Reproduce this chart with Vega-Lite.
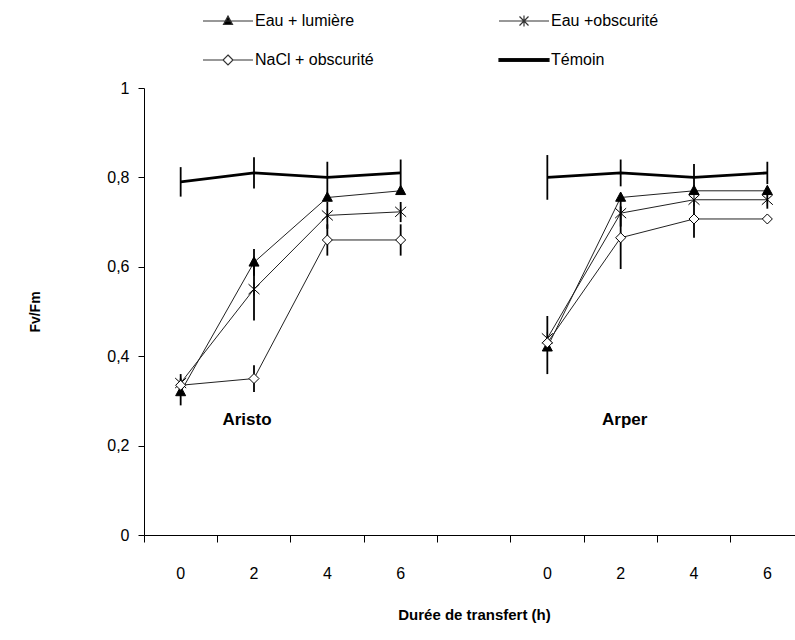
{
  "$schema": "https://vega.github.io/schema/vega-lite/v6.json",
  "width": 660,
  "height": 447,
  "autosize": "none",
  "padding": {"left": 144, "top": 88, "right": 0, "bottom": 105},
  "background": "white",
  "config": {
    "view": {"stroke": null},
    "font": "Liberation Sans",
    "locale": {"number": {"decimal": ",", "thousands": " ", "grouping": [3], "currency": ["", " €"]}},
    "axis": {"grid": false, "domainColor": "black", "tickColor": "black", "labelColor": "black", "titleColor": "black"}
  },
  "data": {"values": [
    {"cultivar": "Aristo", "cat": "0", "series": "Témoin", "v": 0.79, "lo": 0.757, "hi": 0.823},
    {"cultivar": "Aristo", "cat": "2", "series": "Témoin", "v": 0.81, "lo": 0.775, "hi": 0.845},
    {"cultivar": "Aristo", "cat": "4", "series": "Témoin", "v": 0.80, "lo": 0.765, "hi": 0.835},
    {"cultivar": "Aristo", "cat": "6", "series": "Témoin", "v": 0.81, "lo": 0.78, "hi": 0.84},
    {"cultivar": "Aristo", "cat": "0", "series": "Eau + lumière", "v": 0.32, "lo": 0.29, "hi": 0.35},
    {"cultivar": "Aristo", "cat": "2", "series": "Eau + lumière", "v": 0.61, "lo": 0.58, "hi": 0.64},
    {"cultivar": "Aristo", "cat": "4", "series": "Eau + lumière", "v": 0.755, "lo": null, "hi": null},
    {"cultivar": "Aristo", "cat": "6", "series": "Eau + lumière", "v": 0.77, "lo": null, "hi": null},
    {"cultivar": "Aristo", "cat": "0", "series": "Eau +obscurité", "v": 0.34, "lo": 0.32, "hi": 0.36},
    {"cultivar": "Aristo", "cat": "2", "series": "Eau +obscurité", "v": 0.55, "lo": 0.48, "hi": 0.62},
    {"cultivar": "Aristo", "cat": "4", "series": "Eau +obscurité", "v": 0.715, "lo": 0.685, "hi": 0.745},
    {"cultivar": "Aristo", "cat": "6", "series": "Eau +obscurité", "v": 0.723, "lo": 0.70, "hi": 0.745},
    {"cultivar": "Aristo", "cat": "0", "series": "NaCl + obscurité", "v": 0.335, "lo": null, "hi": null},
    {"cultivar": "Aristo", "cat": "2", "series": "NaCl + obscurité", "v": 0.35, "lo": 0.32, "hi": 0.38},
    {"cultivar": "Aristo", "cat": "4", "series": "NaCl + obscurité", "v": 0.66, "lo": 0.625, "hi": 0.695},
    {"cultivar": "Aristo", "cat": "6", "series": "NaCl + obscurité", "v": 0.66, "lo": 0.625, "hi": 0.695},
    {"cultivar": "Arper", "cat": "0 ", "series": "Témoin", "v": 0.80, "lo": 0.75, "hi": 0.85},
    {"cultivar": "Arper", "cat": "2 ", "series": "Témoin", "v": 0.81, "lo": 0.78, "hi": 0.84},
    {"cultivar": "Arper", "cat": "4 ", "series": "Témoin", "v": 0.80, "lo": 0.77, "hi": 0.83},
    {"cultivar": "Arper", "cat": "6 ", "series": "Témoin", "v": 0.81, "lo": 0.785, "hi": 0.835},
    {"cultivar": "Arper", "cat": "0 ", "series": "Eau + lumière", "v": 0.42, "lo": 0.36, "hi": 0.49},
    {"cultivar": "Arper", "cat": "2 ", "series": "Eau + lumière", "v": 0.755, "lo": null, "hi": null},
    {"cultivar": "Arper", "cat": "4 ", "series": "Eau + lumière", "v": 0.77, "lo": null, "hi": null},
    {"cultivar": "Arper", "cat": "6 ", "series": "Eau + lumière", "v": 0.77, "lo": null, "hi": null},
    {"cultivar": "Arper", "cat": "0 ", "series": "Eau +obscurité", "v": 0.44, "lo": null, "hi": null},
    {"cultivar": "Arper", "cat": "2 ", "series": "Eau +obscurité", "v": 0.72, "lo": 0.69, "hi": 0.75},
    {"cultivar": "Arper", "cat": "4 ", "series": "Eau +obscurité", "v": 0.75, "lo": null, "hi": null},
    {"cultivar": "Arper", "cat": "6 ", "series": "Eau +obscurité", "v": 0.75, "lo": 0.73, "hi": 0.77},
    {"cultivar": "Arper", "cat": "0 ", "series": "NaCl + obscurité", "v": 0.43, "lo": null, "hi": null},
    {"cultivar": "Arper", "cat": "2 ", "series": "NaCl + obscurité", "v": 0.665, "lo": 0.595, "hi": 0.735},
    {"cultivar": "Arper", "cat": "4 ", "series": "NaCl + obscurité", "v": 0.707, "lo": 0.665, "hi": 0.75},
    {"cultivar": "Arper", "cat": "6 ", "series": "NaCl + obscurité", "v": 0.707, "lo": null, "hi": null}
  ]},
  "encoding": {
    "x": {
      "field": "cat", "type": "nominal",
      "scale": {"type": "band", "paddingInner": 0, "paddingOuter": 0,
        "domain": ["0", "2", "4", "6", "  ", "0 ", "2 ", "4 ", "6 "]},
      "axis": {
        "title": "Durée de transfert (h)", "titleFontSize": 15, "titleFontWeight": "bold", "titlePadding": 26,
        "labelAngle": 0, "labelFontSize": 16, "labelPadding": 23, "tickSize": 7,
        "bandPosition": 0
      }
    },
    "y": {
      "field": "v", "type": "quantitative", "title": "Fv/Fm",
      "scale": {"domain": [0, 1], "nice": false},
      "axis": {
        "values": [0, 0.2, 0.4, 0.6, 0.8, 1], "format": ".1~f", "tickSize": 6, "labelPadding": 9, "labelFontSize": 16,
        "titleFontSize": 14, "titleFontWeight": "bold", "titlePadding": 64
      }
    }
  },
  "layer": [
    {
      "transform": [{"filter": "datum.series != 'Témoin'"}],
      "mark": {"type": "line", "color": "#222", "strokeWidth": 1},
      "encoding": {"detail": [{"field": "series", "type": "nominal"}, {"field": "cultivar", "type": "nominal"}]}
    },
    {
      "transform": [{"filter": "datum.series == 'Témoin'"}],
      "mark": {"type": "line", "color": "black", "strokeWidth": 2.8},
      "encoding": {"detail": {"field": "cultivar", "type": "nominal"}}
    },
    {
      "transform": [{"filter": "datum.lo != null"}],
      "mark": {"type": "rule", "color": "black", "strokeWidth": 1.8},
      "encoding": {
        "y": {"field": "lo", "type": "quantitative", "title": "Fv/Fm"},
        "y2": {"field": "hi"}
      }
    },
    {
      "transform": [{"filter": "datum.series != 'Témoin'"}],
      "mark": {"type": "point", "stroke": "black", "strokeWidth": 1, "opacity": 1, "size": 100},
      "encoding": {
        "shape": {
          "field": "series", "type": "nominal", "legend": null,
          "scale": {
            "domain": ["Eau + lumière", "Eau +obscurité", "NaCl + obscurité"],
            "range": ["M0,-1.1L1,0.75L-1,0.75Z", "M-1.1,-1L1.1,1M-1.1,1L1.1,-1M0,-1.3L0,1.3", "M0,-1L1,0L0,1L-1,0Z"]
          }
        },
        "fill": {
          "field": "series", "type": "nominal", "legend": null,
          "scale": {"domain": ["Eau + lumière", "Eau +obscurité", "NaCl + obscurité"], "range": ["black", "white", "white"]}
        }
      }
    },
    {
      "data": {"values": [{"cat": "2", "v": 0.257, "label": "Aristo"}]},
      "mark": {"type": "text", "fontWeight": "bold", "fontSize": 17, "align": "center", "baseline": "middle", "dx": -7, "color": "black"},
      "encoding": {"text": {"field": "label", "type": "nominal"}}
    },
    {
      "data": {"values": [{"cat": "2 ", "v": 0.257, "label": "Arper"}]},
      "mark": {"type": "text", "fontWeight": "bold", "fontSize": 17, "align": "center", "baseline": "middle", "dx": 4, "color": "black"},
      "encoding": {"text": {"field": "label", "type": "nominal"}}
    },
    {
      "mark": {"type": "point", "opacity": 0, "stroke": "black", "size": 100},
      "encoding": {
        "shape": {
          "field": "series", "type": "nominal",
          "scale": {
            "domain": ["Eau + lumière", "NaCl + obscurité", "Eau +obscurité", "Témoin"],
            "range": [
              "M-5,0L5,0M0,-1L0.9,0.7L-0.9,0.7Z",
              "M-5,0L-1,0M1,0L5,0M0,-1L1,0L0,1L-1,0Z",
              "M-5,0L5,0M-0.9,-0.9L0.9,0.9M-0.9,0.9L0.9,-0.9M0,-1.1L0,1.1",
              "M-5,-0.3L5,-0.3L5,0.3L-5,0.3Z"
            ]
          },
          "legend": {
            "orient": "none", "legendX": 76, "legendY": -75, "columns": 2, "title": null,
            "symbolSize": 100, "labelOffset": 19, "rowPadding": 23, "columnPadding": 122,
            "symbolStrokeWidth": 1.2, "symbolOpacity": 1,
            "labelFont": "Liberation Sans", "labelFontSize": 16, "labelColor": "black", "labelLimit": 400
          }
        },
        "fill": {
          "field": "series", "type": "nominal",
          "scale": {"domain": ["Eau + lumière", "NaCl + obscurité", "Eau +obscurité", "Témoin"], "range": ["black", "white", "white", "black"]}
        },
        "stroke": {
          "field": "series", "type": "nominal",
          "scale": {"domain": ["Eau + lumière", "NaCl + obscurité", "Eau +obscurité", "Témoin"], "range": ["#333", "#333", "#333", "#111"]}
        }
      }
    }
  ],
  "resolve": {"scale": {"shape": "independent", "fill": "independent", "stroke": "independent"}, "legend": {"shape": "independent", "fill": "independent", "stroke": "independent"}}
}
